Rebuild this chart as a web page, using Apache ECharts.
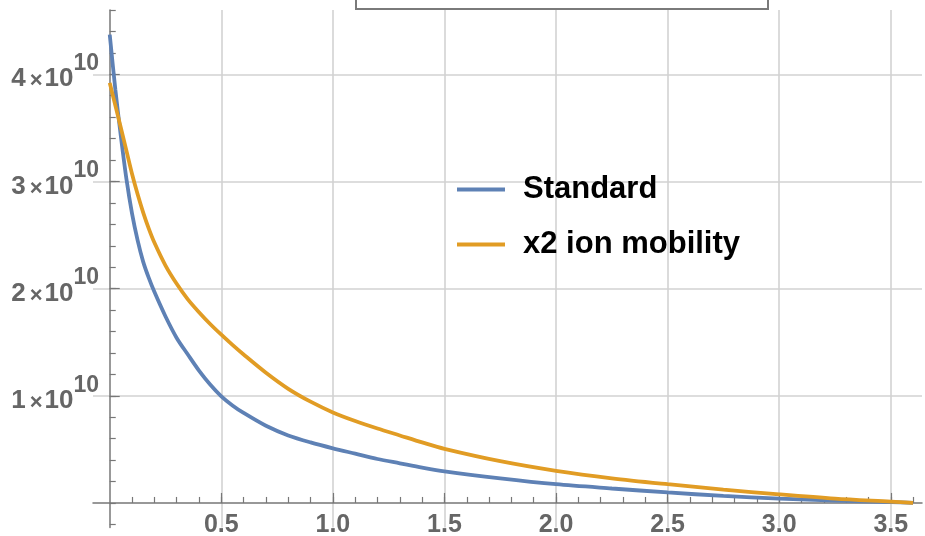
<!DOCTYPE html>
<html>
<head>
<meta charset="utf-8">
<script src="https://cdn.jsdelivr.net/npm/echarts@6/dist/echarts.min.js"></script>
<style>
  html, body { margin: 0; padding: 0; background: #ffffff; }
  #chart { width: 925px; height: 536px; }
</style>
</head>
<body>
<div id="chart"></div>
<script>
// Sampled curves
const xStandard = [0, 0.025, 0.05, 0.075, 0.1, 0.125, 0.15, 0.175, 0.2, 0.25, 0.3, 0.35, 0.4, 0.45, 0.5, 0.55, 0.6, 0.7, 0.8, 0.9, 1.0, 1.1, 1.2, 1.3, 1.4, 1.5, 1.75, 2.0, 2.25, 2.5, 2.75, 3.0, 3.25, 3.5, 3.6];
const yStandard = [4.37e10, 3.86e10, 3.42e10, 3.02e10, 2.70e10, 2.45e10, 2.25e10, 2.10e10, 1.97e10, 1.74e10, 1.54e10, 1.385e10, 1.235e10, 1.105e10, 0.995e10, 0.91e10, 0.84e10, 0.72e10, 0.63e10, 0.565e10, 0.51e10, 0.46e10, 0.41e10, 0.37e10, 0.33e10, 0.295e10, 0.23e10, 0.175e10, 0.135e10, 0.098e10, 0.066e10, 0.04e10, 0.022e10, 0.008e10, 0];

const xMobility = [0, 0.025, 0.05, 0.075, 0.1, 0.125, 0.15, 0.175, 0.2, 0.25, 0.3, 0.35, 0.4, 0.45, 0.5, 0.55, 0.6, 0.7, 0.8, 0.9, 1.0, 1.1, 1.2, 1.3, 1.4, 1.5, 1.75, 2.0, 2.25, 2.5, 2.75, 3.0, 3.25, 3.5, 3.6];
const yMobility = [3.92e10, 3.71e10, 3.50e10, 3.285e10, 3.07e10, 2.88e10, 2.71e10, 2.56e10, 2.43e10, 2.215e10, 2.045e10, 1.90e10, 1.78e10, 1.67e10, 1.57e10, 1.475e10, 1.385e10, 1.215e10, 1.065e10, 0.945e10, 0.845e10, 0.765e10, 0.695e10, 0.63e10, 0.565e10, 0.505e10, 0.39e10, 0.30e10, 0.23e10, 0.175e10, 0.125e10, 0.08e10, 0.04e10, 0.012e10, 0];

const seriesNames = ['Standard', 'x2 ion mobility'];

// Axis ticks and labels
const xMajorTicks = [0.5, 1.0, 1.5, 2.0, 2.5, 3.0, 3.5];
const xTickLabels = ['0.5', '1.0', '1.5', '2.0', '2.5', '3.0', '3.5'];
const yMajorTicks = [1e10, 2e10, 3e10, 4e10];
const yTickMantissas = ['1', '2', '3', '4'];

const xMinorTicks = [];
for (let i = 1; i <= 36; i++) xMinorTicks.push(+(i * 0.1).toFixed(1));
const yMinorTicks = [];
for (let i = -1; i <= 23; i++) yMinorTicks.push(i * 2e9);

const FONT = '"Liberation Sans", Arial, sans-serif';
const AXIS_GRAY = '#777777';
const LABEL_GRAY = '#666666';
const GRID_GRAY = '#d2d2d2';
const BLUE = '#5E81B5';
const ORANGE = '#E19C24';

const chart = echarts.init(document.getElementById('chart'), null, { renderer: 'canvas' });

const X_MIN = -0.075, X_MAX = 3.64;
const Y_MIN = -2.3e9, Y_MAX = 4.6e10;

// Axis lines sit on the origin; their labels are laid out from the grid edges.
chart.setOption({
  animation: false,
  backgroundColor: '#ffffff',
  grid: { left: 93, right: 3, top: 10, bottom: 8.4, containLabel: false, outerBoundsMode: 'none' },
  xAxis: [
    {
      type: 'value', min: X_MIN, max: X_MAX, position: 'bottom',
      axisLine: { onZero: true, onZeroAxisIndex: 0, lineStyle: { color: AXIS_GRAY, width: 1.5 } },
      axisTick: { show: true, inside: true, length: 10, customValues: xMajorTicks, lineStyle: { color: AXIS_GRAY, width: 1.2 } },
      axisLabel: {
        customValues: xMajorTicks,
        formatter: v => xTickLabels[xMajorTicks.indexOf(v)] ?? '',
        margin: -10, fontSize: 25, lineHeight: 16, fontWeight: 'bold', color: LABEL_GRAY, fontFamily: FONT
      },
      splitLine: { show: true, lineStyle: { color: GRID_GRAY, width: 1.6 } }
    },
    {
      type: 'value', min: X_MIN, max: X_MAX, position: 'bottom',
      axisLine: { show: false, onZero: true, onZeroAxisIndex: 0 },
      axisTick: { show: true, inside: true, length: 6, customValues: xMinorTicks, lineStyle: { color: AXIS_GRAY, width: 1.2 } },
      axisLabel: { show: false },
      splitLine: { show: false }
    }
  ],
  yAxis: [
    {
      type: 'value', min: Y_MIN, max: Y_MAX, position: 'left',
      axisLine: { onZero: true, onZeroAxisIndex: 0, lineStyle: { color: AXIS_GRAY, width: 1.5 } },
      axisTick: { show: true, inside: true, length: 10, customValues: yMajorTicks, lineStyle: { color: AXIS_GRAY, width: 1.2 } },
      axisLabel: {
        customValues: yMajorTicks,
        margin: -6,
        padding: [0, 0, 4, 0],
        formatter: v => '{m|' + yTickMantissas[yMajorTicks.indexOf(v)] + '}{x|×}{m|10}{s|10}',
        rich: {
          m: { fontSize: 26, fontWeight: 'bold', color: LABEL_GRAY, fontFamily: FONT, verticalAlign: 'bottom', lineHeight: 40 },
          x: { fontSize: 22, fontWeight: 'bold', color: LABEL_GRAY, fontFamily: FONT, verticalAlign: 'bottom', lineHeight: 40, padding: [0, 2, 0, 4] },
          s: { fontSize: 23, fontWeight: 'bold', color: LABEL_GRAY, fontFamily: FONT, verticalAlign: 'top', lineHeight: 34 }
        }
      },
      splitLine: { show: true, lineStyle: { color: GRID_GRAY, width: 1.6 } }
    },
    {
      type: 'value', min: Y_MIN, max: Y_MAX, position: 'left',
      axisLine: { show: false, onZero: true, onZeroAxisIndex: 0 },
      axisTick: { show: true, inside: true, length: 6, customValues: yMinorTicks, lineStyle: { color: AXIS_GRAY, width: 1.2 } },
      axisLabel: { show: false },
      splitLine: { show: false }
    }
  ],
  legend: {
    orient: 'vertical', left: 452, top: 169,
    icon: 'rect', itemWidth: 48, itemHeight: 4, itemGap: 24,
    data: seriesNames,
    formatter: n => '{t|' + n + '}',
    textStyle: {
      rich: { t: { fontSize: 31, fontWeight: 'bold', color: '#000000', fontFamily: FONT, padding: [0, 0, 0, 13], lineHeight: 34 } }
    }
  },
  graphic: [
    {
      type: 'rect', z: 100,
      shape: { x: 356, y: -20, width: 412, height: 29 },
      style: { fill: '#ffffff', stroke: '#7a7a7a', lineWidth: 2 }
    }
  ],
  series: [
    {
      type: 'line', name: seriesNames[0], xAxisIndex: 0, yAxisIndex: 0,
      data: xStandard.map((x, i) => [x, yStandard[i]]),
      showSymbol: false, smooth: 0.3,
      color: BLUE, lineStyle: { color: BLUE, width: 3.8 }, z: 3
    },
    {
      type: 'line', name: seriesNames[1], xAxisIndex: 0, yAxisIndex: 0,
      data: xMobility.map((x, i) => [x, yMobility[i]]),
      showSymbol: false, smooth: 0.3,
      color: ORANGE, lineStyle: { color: ORANGE, width: 3.8 }, z: 4
    }
  ]
});
</script>
</body>
</html>
